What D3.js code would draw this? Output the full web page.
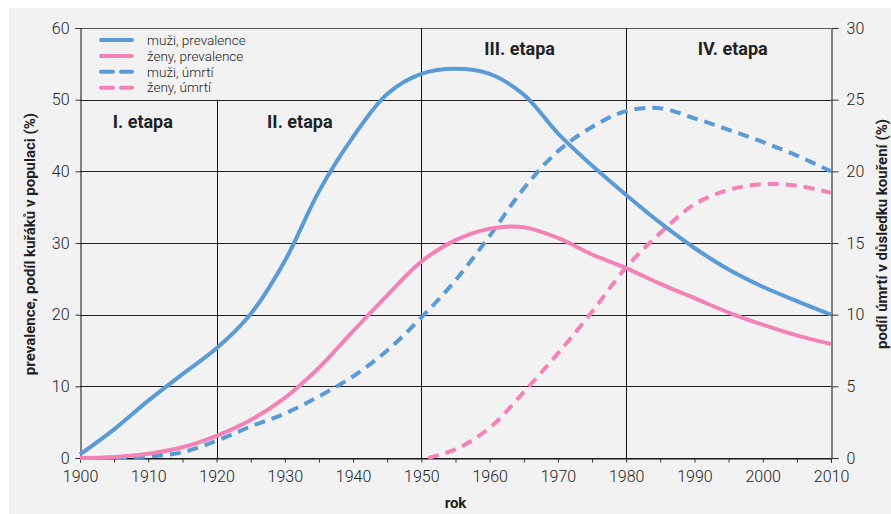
<!DOCTYPE html>
<html>
<head>
<meta charset="utf-8">
<script src="https://cdn.jsdelivr.net/npm/d3@7"></script>
<style>
  body { margin: 0; background: #fff; }
  svg { display: block; }
  text { font-family: Roboto, "DejaVu Sans", sans-serif; fill: #222; }
</style>
</head>
<body>
<div id="chart"></div>
<script>
// years shared by the first three series
var years = [1900, 1905, 1910, 1915, 1920, 1925, 1930, 1935, 1940, 1945, 1950, 1955,
             1960, 1965, 1970, 1975, 1980, 1985, 1990, 1995, 2000, 2005, 2010];
// prevalence, left axis (%)
var muziPrevalence = [0.5, 4, 8, 11.7, 15.3, 20.1, 27.5, 37.2, 44.8, 50.8, 53.6, 54.3,
                      53.6, 50.7, 45.3, 40.8, 36.7, 32.8, 29.3, 26.3, 23.9, 21.9, 20];
var zenyPrevalence = [0, 0.15, 0.6, 1.5, 3.1, 5.3, 8.4, 12.6, 17.7, 22.7, 27.4, 30.4,
                      32, 32.2, 30.7, 28.4, 26.5, 24.3, 22.3, 20.3, 18.6, 17.1, 15.9];
// deaths, right axis (%)
var muziUmrti = [0, 0, 0.1, 0.4, 1.2, 2.2, 3.1, 4.3, 5.7, 7.5, 9.8, 12.4,
                 15.5, 18.8, 21.4, 23.1, 24.2, 24.4, 23.7, 22.9, 22.05, 21.1, 20];
var zenyUmrtiYears = [1951, 1955, 1960, 1965, 1970, 1975, 1980, 1985, 1990, 1995, 2000, 2005, 2010];
var zenyUmrti = [0, 0.6, 2.1, 4.6, 7.3, 10.2, 13.3, 15.7, 17.7, 18.7, 19.1, 19.0, 18.5];

var xTicks = [1900, 1910, 1920, 1930, 1940, 1950, 1960, 1970, 1980, 1990, 2000, 2010];
var leftTicks = [0, 10, 20, 30, 40, 50, 60];
var rightTicks = [0, 5, 10, 15, 20, 25, 30];
var etapy = [
  { label: "I. etapa", year: 1909.2, value: 46 },
  { label: "II. etapa", year: 1932.2, value: 46 },
  { label: "III. etapa", year: 1964.4, value: 56.2 },
  { label: "IV. etapa", year: 1995.6, value: 56.2 }
];

var blue = "#5a9bd5", pink = "#f383b6";
var width = 891, height = 514;
var margin = { left: 80, right: 60, top: 28, bottom: 56 };

var svg = d3.select("#chart").append("svg").attr("width", width).attr("height", height);

// grey panel
svg.append("rect").attr("x", 9).attr("y", 8).attr("width", width - 9).attr("height", height - 8)
  .attr("fill", "#f2f2f2");

var x = d3.scaleLinear().domain([1900, 2010]).range([margin.left, width - margin.right]);
var y = d3.scaleLinear().domain([0, 60]).range([height - margin.bottom, margin.top]);
var y2 = d3.scaleLinear().domain([0, 30]).range([height - margin.bottom, margin.top]);

// horizontal grid
svg.append("g").selectAll("line").data(leftTicks).enter().append("line")
  .attr("x1", x(1900)).attr("x2", x(2010))
  .attr("y1", function (d) { return Math.round(y(d)) + 0.5; })
  .attr("y2", function (d) { return Math.round(y(d)) + 0.5; })
  .attr("stroke", function (d) { return d === 60 ? "#555" : "#222"; })
  .attr("stroke-width", 1);

// vertical stage separators
var vlines = [
  { year: 1920, top: 50 }, { year: 1950, top: 60 }, { year: 1980, top: 60 }
];
svg.append("g").selectAll("line").data(vlines).enter().append("line")
  .attr("x1", function (d) { return Math.round(x(d.year)) + 0.5; })
  .attr("x2", function (d) { return Math.round(x(d.year)) + 0.5; })
  .attr("y1", function (d) { return y(d.top); })
  .attr("y2", y(0))
  .attr("stroke", "#111");

// axes
var xAxis = svg.append("g")
  .attr("transform", "translate(0," + (Math.round(y(0)) + 0.5) + ")")
  .call(d3.axisBottom(x).tickValues(d3.range(1900, 2011, 5)).tickSize(4)
    .tickFormat(function (d) { return xTicks.indexOf(d) >= 0 ? d : ""; }));
var leftAxis = svg.append("g")
  .attr("transform", "translate(" + (Math.round(x(1900)) + 0.5) + ",0)")
  .call(d3.axisLeft(y).tickValues(leftTicks).tickSize(5));
var rightAxis = svg.append("g")
  .attr("transform", "translate(" + (Math.round(x(2010)) + 0.5) + ",0)")
  .call(d3.axisRight(y2).tickValues(rightTicks).tickSize(7));

[xAxis, leftAxis, rightAxis].forEach(function (a) {
  a.select(".domain").attr("stroke", "#111");
  a.selectAll(".tick line").attr("stroke", "#333");
  a.selectAll(".tick text").style("font-size", "16px").style("font-weight", 300)
    .attr("fill", "#222");
});
xAxis.selectAll(".tick text").attr("dy", "1.05em");
leftAxis.selectAll(".tick text").attr("x", -11);
rightAxis.selectAll(".tick text").attr("x", 15);

// series
var lineLeft = d3.line().curve(d3.curveCatmullRom.alpha(0.5))
  .x(function (d) { return x(d[0]); }).y(function (d) { return y(d[1]); });
var lineRight = d3.line().curve(d3.curveCatmullRom.alpha(0.5))
  .x(function (d) { return x(d[0]); }).y(function (d) { return y2(d[1]); });

var series = [
  { name: "muži, prevalence", color: blue, dash: null, path: lineLeft(d3.zip(years, muziPrevalence)) },
  { name: "ženy, prevalence", color: pink, dash: null, path: lineLeft(d3.zip(years, zenyPrevalence)) },
  { name: "muži, úmrtí", color: blue, dash: "11,7", path: lineRight(d3.zip(years, muziUmrti)) },
  { name: "ženy, úmrtí", color: pink, dash: "11,7", path: lineRight(d3.zip(zenyUmrtiYears, zenyUmrti)) }
];

// draw dashed ones first, solid on top like the original
[series[3], series[2], series[1], series[0]].forEach(function (s) {
  svg.append("path").attr("d", s.path).attr("fill", "none")
    .attr("stroke", s.color).attr("stroke-width", 4)
    .attr("stroke-dasharray", s.dash);
});

// stage labels
svg.append("g").selectAll("text").data(etapy).enter().append("text")
  .attr("x", function (d) { return x(d.year); })
  .attr("y", function (d) { return y(d.value); })
  .attr("text-anchor", "middle")
  .style("font-size", "18px").style("font-weight", "bold")
  .text(function (d) { return d.label; });

// legend
var legend = svg.append("g").attr("transform", "translate(99,40)");
series.forEach(function (s, i) {
  var g = legend.append("g").attr("transform", "translate(0," + (i * 15.9) + ")");
  g.append("line").attr("x1", 2).attr("x2", 33).attr("y1", 0).attr("y2", 0)
    .attr("stroke", s.color).attr("stroke-width", 4).attr("stroke-linecap", "round")
    .attr("stroke-dasharray", s.dash ? "12,8" : null);
  g.append("text").attr("x", 48).attr("y", 0).attr("dy", "0.35em")
    .style("font-size", "13.5px").style("font-weight", 300).text(s.name);
});

// axis titles
svg.append("text").attr("x", x(1955)).attr("y", 508).attr("text-anchor", "middle")
  .style("font-size", "15px").style("font-weight", "bold").text("rok");
svg.append("text").attr("transform", "translate(35,244) rotate(-90)")
  .attr("text-anchor", "middle").style("font-size", "15px").style("font-weight", "bold")
  .text("prevalence, podíl kuřáků v populaci (%)");
svg.append("text").attr("transform", "translate(887,234) rotate(-90)")
  .attr("text-anchor", "middle").style("font-size", "15px").style("font-weight", "bold")
  .text("podíl úmrtí v důsledku kouření (%)");
</script>
</body>
</html>
